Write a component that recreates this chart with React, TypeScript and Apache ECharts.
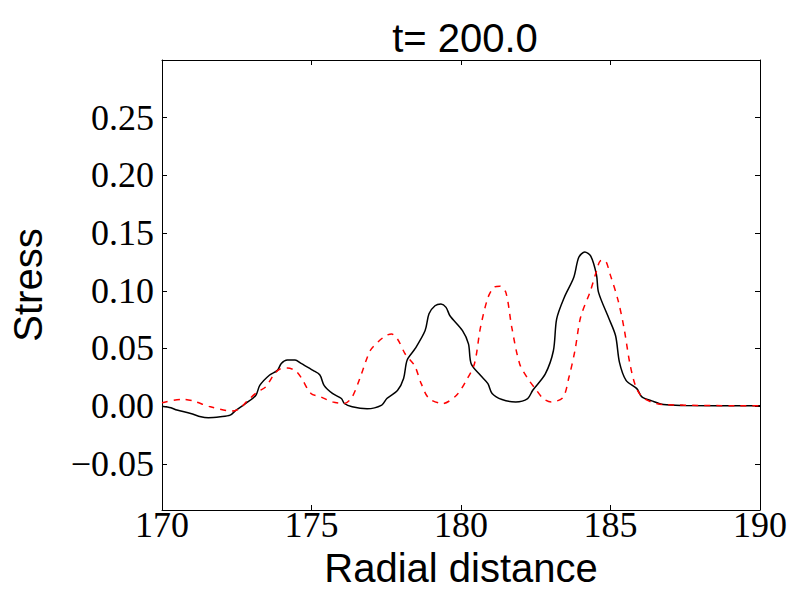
import React, { useEffect, useRef } from "react";
import * as echarts from "echarts";

const titleText = "t= 200.0";
const xName = "Radial distance";
const yName = "Stress";
const yTicks = [-0.05, 0, 0.05, 0.1, 0.15, 0.2, 0.25];

const blackX = [170, 170.3, 170.5, 170.96, 171.3, 171.55, 171.95, 172.28, 172.48, 172.8, 173.14, 173.27, 173.6, 173.86, 173.99, 174.19, 174.45, 174.65, 175.05, 175.28, 175.42, 175.7, 176.0, 176.1, 176.36, 176.86, 177.35, 177.52, 177.88, 178.08, 178.2, 178.47, 178.8, 178.93, 179.13, 179.33, 179.5, 179.63, 180.05, 180.25, 180.34, 180.65, 180.9, 181.04, 181.37, 181.83, 182.23, 182.4, 182.82, 183.09, 183.2, 183.45, 183.77, 183.94, 184.14, 184.34, 184.53, 184.6, 184.93, 185.17, 185.3, 185.52, 185.88, 186.05, 186.38, 186.77, 187.43, 190];
const blackY = [0.0, -0.0014, -0.0034, -0.0063, -0.0092, -0.01, -0.0092, -0.0078, -0.0034, 0.0023, 0.0095, 0.018, 0.027, 0.031, 0.037, 0.04, 0.04, 0.037, 0.031, 0.027, 0.018, 0.011, 0.0066, 0.0023, -0.0006, -0.0023, 0.0009, 0.0066, 0.0138, 0.024, 0.04, 0.05, 0.0655, 0.08, 0.087, 0.0885, 0.0856, 0.0784, 0.0655, 0.054, 0.0368, 0.0267, 0.0195, 0.011, 0.0057, 0.0037, 0.0066, 0.0138, 0.028, 0.048, 0.0756, 0.094, 0.1115, 0.129, 0.1336, 0.13, 0.114, 0.0986, 0.077, 0.061, 0.038, 0.0224, 0.0152, 0.008, 0.0046, 0.0014, 0.0006, 0.0003];

const redX = [170, 170.7, 171.03, 171.62, 172.35, 172.6, 172.87, 173.2, 173.47, 173.73, 173.93, 174.19, 174.45, 174.65, 174.98, 175.31, 175.7, 176.1, 176.36, 176.63, 176.96, 177.22, 177.48, 177.68, 177.88, 178.14, 178.45, 178.67, 178.93, 179.39, 179.85, 180.18, 180.45, 180.65, 180.9, 181.1, 181.3, 181.5, 181.7, 181.96, 182.23, 182.49, 182.75, 183.02, 183.41, 183.61, 183.81, 184.0, 184.33, 184.53, 184.66, 184.8, 184.99, 185.26, 185.45, 185.65, 185.85, 186.12, 186.77, 190];
const redY = [0.0029, 0.006, 0.0046, -0.0006, -0.0043, -0.002, 0.005, 0.0124, 0.0167, 0.027, 0.032, 0.033, 0.031, 0.025, 0.011, 0.008, 0.0037, 0.0023, 0.008, 0.025, 0.048, 0.0555, 0.061, 0.0626, 0.058, 0.045, 0.035, 0.0195, 0.0066, 0.0023, 0.0095, 0.0224, 0.0368, 0.068, 0.094, 0.103, 0.104, 0.0986, 0.068, 0.0368, 0.024, 0.015, 0.0066, 0.0037, 0.0075, 0.025, 0.048, 0.077, 0.1, 0.117, 0.126, 0.1264, 0.114, 0.091, 0.068, 0.0368, 0.0167, 0.0066, 0.0014, 0.0003];

const serif = "'Liberation Serif', 'DejaVu Serif', serif";
const sans = "'Liberation Sans', Arial, sans-serif";

function fmtY(v: number): string {
  const s = Math.abs(v).toFixed(2);
  return v < -1e-9 ? "\u2212" + s : s;
}

export default function App() {
  const ref = useRef<HTMLDivElement>(null);
  useEffect(() => {
    if (!ref.current) return;
    const chart = echarts.init(ref.current, null, { renderer: "svg" });
    const lineAxis = { show: true, onZero: false, lineStyle: { color: "#000", width: 1 } };
    const tick = { show: true, inside: true, length: 5, lineStyle: { color: "#000", width: 1 } };
    chart.setOption({
      animation: false,
      backgroundColor: "#fff",
      title: {
        text: titleText,
        left: 460,
        textAlign: "center",
        top: 13,
        textStyle: { fontFamily: sans, fontSize: 40, fontWeight: "normal", color: "#000" },
      },
      grid: { left: 161, right: 40, top: 60, bottom: 90, containLabel: false },
      xAxis: [
        {
          type: "value",
          min: 170,
          max: 190,
          interval: 5,
          position: "bottom",
          name: xName,
          nameLocation: "middle",
          nameGap: 20,
          nameTextStyle: { fontFamily: sans, fontSize: 40, color: "#000", verticalAlign: "top" },
          axisLine: lineAxis,
          axisTick: tick,
          splitLine: { show: false },
          axisLabel: { fontFamily: serif, fontSize: 36, color: "#000", margin: -3 },
        },
        {
          type: "value",
          min: 170,
          max: 190,
          interval: 5,
          position: "top",
          axisLine: lineAxis,
          axisTick: tick,
          splitLine: { show: false },
          axisLabel: { show: false },
        },
      ],
      yAxis: [
        {
          type: "value",
          min: -0.09,
          max: 0.3,
          position: "left",
          name: yName,
          nameLocation: "middle",
          nameRotate: 90,
          nameGap: 114,
          nameTextStyle: { fontFamily: sans, fontSize: 40, color: "#000" },
          axisLine: lineAxis,
          axisTick: { ...tick, customValues: yTicks },
          splitLine: { show: false },
          axisLabel: {
            customValues: yTicks,
            fontFamily: serif,
            fontSize: 36,
            color: "#000",
            margin: 8,
            formatter: (v: number) => fmtY(v),
          },
        },
        {
          type: "value",
          min: -0.09,
          max: 0.3,
          position: "right",
          axisLine: lineAxis,
          axisTick: { ...tick, customValues: yTicks },
          splitLine: { show: false },
          axisLabel: { show: false, customValues: yTicks },
        },
      ],
      series: [
        {
          type: "line",
          data: blackX.map((x, i) => [x, blackY[i]]),
          showSymbol: false,
          smooth: 0.3,
          lineStyle: { color: "#000", width: 1.5, type: "solid" },
          z: 2,
        },
        {
          type: "line",
          data: redX.map((x, i) => [x, redY[i]]),
          showSymbol: false,
          smooth: 0.3,
          lineStyle: { color: "#ff0000", width: 1.5, type: [6, 6] },
          z: 3,
        },
      ],
    });
    return () => chart.dispose();
  }, []);
  return (
    <div
      ref={ref}
      style={{ position: "fixed", left: 0, top: 0, width: 800, height: 600, background: "#fff" }}
    />
  );
}
